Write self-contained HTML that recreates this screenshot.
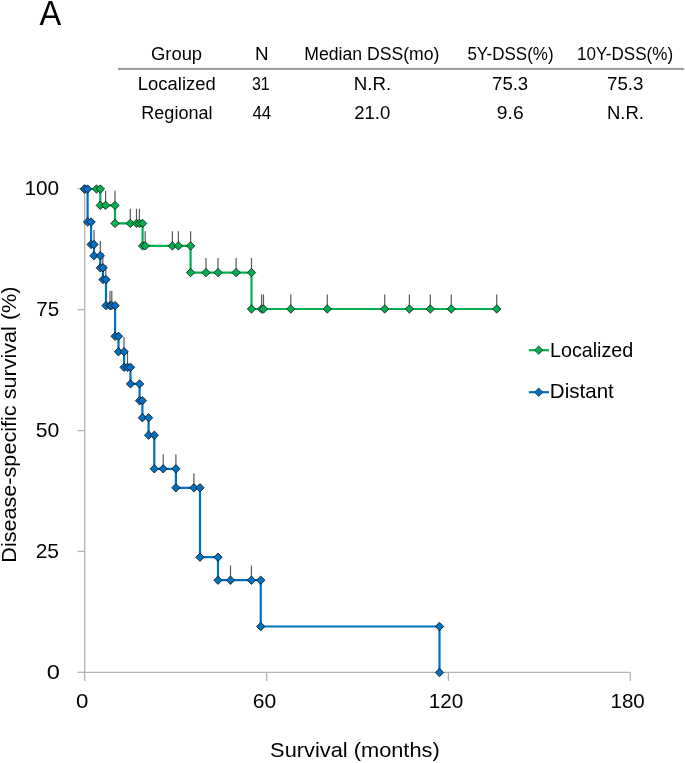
<!DOCTYPE html>
<html><head><meta charset="utf-8"><title>Kaplan-Meier DSS</title>
<style>
html,body{margin:0;padding:0;background:#fff;width:685px;height:763px;overflow:hidden;}
svg{display:block;font-family:"Liberation Sans",sans-serif;will-change:transform;}
</style></head><body>
<svg width="685" height="763" viewBox="0 0 685 763"><rect width="685" height="763" fill="#ffffff"/><text id="t_A" x="39.41" y="25.4" font-size="35.6" textLength="21.71" lengthAdjust="spacingAndGlyphs" fill="#000">A</text><text id="t_Group" x="150.95" y="60.2" font-size="17.5" textLength="51.18" lengthAdjust="spacingAndGlyphs" fill="#000">Group</text><text id="t_N" x="255.09" y="60.2" font-size="17.5" textLength="13.58" lengthAdjust="spacingAndGlyphs" fill="#000">N</text><text id="t_Median" x="304.29" y="60.2" font-size="17.5" textLength="135.17" lengthAdjust="spacingAndGlyphs" fill="#000">Median DSS(mo)</text><text id="t_5Y" x="467.42" y="60.2" font-size="17.5" textLength="86.18" lengthAdjust="spacingAndGlyphs" fill="#000">5Y-DSS(%)</text><text id="t_10Y" x="577.09" y="60.2" font-size="17.5" textLength="95.99" lengthAdjust="spacingAndGlyphs" fill="#000">10Y-DSS(%)</text><text id="t_Loc" x="137.85" y="89.7" font-size="17.5" textLength="77.93" lengthAdjust="spacingAndGlyphs" fill="#000">Localized</text><text id="t_31" x="251.99" y="89.7" font-size="17.5" textLength="17.73" lengthAdjust="spacingAndGlyphs" fill="#000">31</text><text id="t_NR1" x="353.78" y="89.7" font-size="17.5" textLength="37.46" lengthAdjust="spacingAndGlyphs" fill="#000">N.R.</text><text id="t_753a" x="492.09" y="89.7" font-size="17.5" textLength="36.10" lengthAdjust="spacingAndGlyphs" fill="#000">75.3</text><text id="t_753b" x="606.97" y="89.7" font-size="17.5" textLength="36.45" lengthAdjust="spacingAndGlyphs" fill="#000">75.3</text><text id="t_Reg" x="141.35" y="119.0" font-size="17.5" textLength="71.11" lengthAdjust="spacingAndGlyphs" fill="#000">Regional</text><text id="t_44" x="252.41" y="119.0" font-size="17.5" textLength="18.84" lengthAdjust="spacingAndGlyphs" fill="#000">44</text><text id="t_210" x="354.20" y="119.0" font-size="17.5" textLength="36.06" lengthAdjust="spacingAndGlyphs" fill="#000">21.0</text><text id="t_96" x="496.86" y="119.0" font-size="17.5" textLength="26.74" lengthAdjust="spacingAndGlyphs" fill="#000">9.6</text><text id="t_NR2" x="606.94" y="119.0" font-size="17.5" textLength="36.97" lengthAdjust="spacingAndGlyphs" fill="#000">N.R.</text><text id="t_SurvT" x="270.14" y="757.3" font-size="21" textLength="169.60" lengthAdjust="spacingAndGlyphs" fill="#000">Survival (months)</text><text id="t_LegLoc" x="549.93" y="356.9" font-size="21" textLength="83.41" lengthAdjust="spacingAndGlyphs" fill="#000">Localized</text><text id="t_LegDist" x="549.87" y="398.0" font-size="21" textLength="63.89" lengthAdjust="spacingAndGlyphs" fill="#000">Distant</text><text id="t_y100" x="24.49" y="195.45" font-size="21" textLength="34.71" lengthAdjust="spacingAndGlyphs" fill="#000">100</text><text id="t_y75" x="36.31" y="316.35" font-size="21" textLength="22.93" lengthAdjust="spacingAndGlyphs" fill="#000">75</text><text id="t_y50" x="35.72" y="437.15" font-size="21" textLength="23.56" lengthAdjust="spacingAndGlyphs" fill="#000">50</text><text id="t_y25" x="35.66" y="558.05" font-size="21" textLength="23.36" lengthAdjust="spacingAndGlyphs" fill="#000">25</text><text id="t_y0" x="46.82" y="678.95" font-size="21" textLength="13.09" lengthAdjust="spacingAndGlyphs" fill="#000">0</text><text id="t_x0" x="76.14" y="708.3" font-size="21" textLength="12.40" lengthAdjust="spacingAndGlyphs" fill="#000">0</text><text id="t_x60" x="252.71" y="708.3" font-size="21" textLength="23.46" lengthAdjust="spacingAndGlyphs" fill="#000">60</text><text id="t_x120" x="428.74" y="708.3" font-size="21" textLength="34.56" lengthAdjust="spacingAndGlyphs" fill="#000">120</text><text id="t_x180" x="610.55" y="708.3" font-size="21" textLength="34.23" lengthAdjust="spacingAndGlyphs" fill="#000">180</text><rect x="117.9" y="67.9" width="566" height="2.05" fill="#9a9a9a"/><g stroke="#b2b2b2" stroke-width="1.3" fill="none"><path d="M84.7,188.8V681M84.7,672.45H630.3"/><path d="M77.5,188.80H84.7"/><path d="M77.5,309.68H84.7"/><path d="M77.5,430.55H84.7"/><path d="M77.5,551.42H84.7"/><path d="M77.5,672.30H84.7"/><path d="M266.57,672.3V681"/><path d="M448.43,672.3V681"/><path d="M630.30,672.3V681"/></g><text id="t_YT" transform="translate(16.3,562.70) rotate(-90)" x="0" y="0" font-size="20.6" textLength="276.20" lengthAdjust="spacingAndGlyphs" fill="#000">Disease-specific survival (%)</text><path d="M84.70,189.00 L100.30,189.00 L100.30,205.40 L115.00,205.40 L115.00,223.40 L142.60,223.40 L142.60,245.90 L190.60,245.90 L190.60,272.60 L251.50,272.60 L251.50,309.00 L496.70,309.00" fill="none" stroke="#00B050" stroke-width="2.2"/><path d="M105.60,205.40V190.80M115.00,205.40V190.80M130.30,223.40V208.80M136.50,223.40V208.80M139.40,223.40V208.80M145.20,245.90V231.30M172.40,245.90V231.30M178.40,245.90V231.30M190.60,245.90V231.30M206.00,272.60V258.00M218.00,272.60V258.00M236.10,272.60V258.00M251.50,272.60V258.00M261.60,309.00V294.40M263.50,309.00V294.40M290.80,309.00V294.40M327.30,309.00V294.40M384.70,309.00V294.40M409.40,309.00V294.40M430.30,309.00V294.40M451.30,309.00V294.40M496.70,309.00V294.40" stroke="#595959" stroke-width="1.2" fill="none"/><g fill="#00B050" stroke="#000" stroke-opacity="0.72" stroke-width="1.0"><path d="M84.70,184.80L88.90,189.00L84.70,193.20L80.50,189.00Z"/><path d="M96.50,184.80L100.70,189.00L96.50,193.20L92.30,189.00Z"/><path d="M100.30,184.80L104.50,189.00L100.30,193.20L96.10,189.00Z"/><path d="M100.30,201.20L104.50,205.40L100.30,209.60L96.10,205.40Z"/><path d="M105.60,201.20L109.80,205.40L105.60,209.60L101.40,205.40Z"/><path d="M115.00,201.20L119.20,205.40L115.00,209.60L110.80,205.40Z"/><path d="M115.00,219.20L119.20,223.40L115.00,227.60L110.80,223.40Z"/><path d="M130.30,219.20L134.50,223.40L130.30,227.60L126.10,223.40Z"/><path d="M136.50,219.20L140.70,223.40L136.50,227.60L132.30,223.40Z"/><path d="M139.40,219.20L143.60,223.40L139.40,227.60L135.20,223.40Z"/><path d="M142.60,219.20L146.80,223.40L142.60,227.60L138.40,223.40Z"/><path d="M142.60,241.70L146.80,245.90L142.60,250.10L138.40,245.90Z"/><path d="M145.20,241.70L149.40,245.90L145.20,250.10L141.00,245.90Z"/><path d="M172.40,241.70L176.60,245.90L172.40,250.10L168.20,245.90Z"/><path d="M178.40,241.70L182.60,245.90L178.40,250.10L174.20,245.90Z"/><path d="M190.60,241.70L194.80,245.90L190.60,250.10L186.40,245.90Z"/><path d="M190.60,268.40L194.80,272.60L190.60,276.80L186.40,272.60Z"/><path d="M206.00,268.40L210.20,272.60L206.00,276.80L201.80,272.60Z"/><path d="M218.00,268.40L222.20,272.60L218.00,276.80L213.80,272.60Z"/><path d="M236.10,268.40L240.30,272.60L236.10,276.80L231.90,272.60Z"/><path d="M251.50,268.40L255.70,272.60L251.50,276.80L247.30,272.60Z"/><path d="M251.50,304.80L255.70,309.00L251.50,313.20L247.30,309.00Z"/><path d="M261.60,304.80L265.80,309.00L261.60,313.20L257.40,309.00Z"/><path d="M263.50,304.80L267.70,309.00L263.50,313.20L259.30,309.00Z"/><path d="M290.80,304.80L295.00,309.00L290.80,313.20L286.60,309.00Z"/><path d="M327.30,304.80L331.50,309.00L327.30,313.20L323.10,309.00Z"/><path d="M384.70,304.80L388.90,309.00L384.70,313.20L380.50,309.00Z"/><path d="M409.40,304.80L413.60,309.00L409.40,313.20L405.20,309.00Z"/><path d="M430.30,304.80L434.50,309.00L430.30,313.20L426.10,309.00Z"/><path d="M451.30,304.80L455.50,309.00L451.30,313.20L447.10,309.00Z"/><path d="M496.70,304.80L500.90,309.00L496.70,313.20L492.50,309.00Z"/></g><path d="M84.70,189.00 L87.60,189.00 L87.60,222.00 L91.10,222.00 L91.10,244.50 L94.00,244.50 L94.00,255.70 L100.30,255.70 L100.30,267.80 L103.00,267.80 L103.00,279.60 L106.00,279.60 L106.00,305.60 L115.10,305.60 L115.10,336.30 L118.50,336.30 L118.50,351.70 L124.10,351.70 L124.10,367.30 L130.50,367.30 L130.50,383.90 L139.60,383.90 L139.60,400.70 L142.40,400.70 L142.40,417.70 L148.60,417.70 L148.60,435.20 L154.30,435.20 L154.30,468.80 L175.90,468.80 L175.90,487.80 L200.00,487.80 L200.00,557.20 L218.00,557.20 L218.00,580.20 L260.75,580.20 L260.75,626.50 L439.50,626.50 L439.50,672.50 L439.50,672.50" fill="none" stroke="#0070C0" stroke-width="2.2"/><path d="M94.00,244.50V229.90M100.30,255.70V241.10M102.80,267.80V253.20M105.80,279.60V265.00M110.00,305.60V291.00M111.80,305.60V291.00M124.00,351.70V337.10M127.50,367.30V352.70M163.20,468.80V454.20M175.90,468.80V454.20M193.90,487.80V473.20M230.50,580.20V565.60M251.40,580.20V565.60" stroke="#595959" stroke-width="1.2" fill="none"/><g fill="#0070C0" stroke="#000" stroke-opacity="0.72" stroke-width="1.0"><path d="M84.50,184.80L88.70,189.00L84.50,193.20L80.30,189.00Z"/><path d="M87.60,184.80L91.80,189.00L87.60,193.20L83.40,189.00Z"/><path d="M87.60,217.80L91.80,222.00L87.60,226.20L83.40,222.00Z"/><path d="M91.10,217.80L95.30,222.00L91.10,226.20L86.90,222.00Z"/><path d="M91.10,240.30L95.30,244.50L91.10,248.70L86.90,244.50Z"/><path d="M94.00,240.30L98.20,244.50L94.00,248.70L89.80,244.50Z"/><path d="M94.00,251.50L98.20,255.70L94.00,259.90L89.80,255.70Z"/><path d="M100.30,251.50L104.50,255.70L100.30,259.90L96.10,255.70Z"/><path d="M100.30,263.60L104.50,267.80L100.30,272.00L96.10,267.80Z"/><path d="M103.00,263.60L107.20,267.80L103.00,272.00L98.80,267.80Z"/><path d="M103.00,275.40L107.20,279.60L103.00,283.80L98.80,279.60Z"/><path d="M106.00,275.40L110.20,279.60L106.00,283.80L101.80,279.60Z"/><path d="M106.00,301.40L110.20,305.60L106.00,309.80L101.80,305.60Z"/><path d="M110.00,301.40L114.20,305.60L110.00,309.80L105.80,305.60Z"/><path d="M111.70,301.40L115.90,305.60L111.70,309.80L107.50,305.60Z"/><path d="M115.10,301.40L119.30,305.60L115.10,309.80L110.90,305.60Z"/><path d="M115.10,332.10L119.30,336.30L115.10,340.50L110.90,336.30Z"/><path d="M118.50,332.10L122.70,336.30L118.50,340.50L114.30,336.30Z"/><path d="M118.50,347.50L122.70,351.70L118.50,355.90L114.30,351.70Z"/><path d="M124.10,347.50L128.30,351.70L124.10,355.90L119.90,351.70Z"/><path d="M124.10,363.10L128.30,367.30L124.10,371.50L119.90,367.30Z"/><path d="M127.50,363.10L131.70,367.30L127.50,371.50L123.30,367.30Z"/><path d="M130.50,363.10L134.70,367.30L130.50,371.50L126.30,367.30Z"/><path d="M130.50,379.70L134.70,383.90L130.50,388.10L126.30,383.90Z"/><path d="M139.60,379.70L143.80,383.90L139.60,388.10L135.40,383.90Z"/><path d="M139.60,396.50L143.80,400.70L139.60,404.90L135.40,400.70Z"/><path d="M142.40,396.50L146.60,400.70L142.40,404.90L138.20,400.70Z"/><path d="M142.40,413.50L146.60,417.70L142.40,421.90L138.20,417.70Z"/><path d="M148.60,413.50L152.80,417.70L148.60,421.90L144.40,417.70Z"/><path d="M148.60,431.00L152.80,435.20L148.60,439.40L144.40,435.20Z"/><path d="M154.30,431.00L158.50,435.20L154.30,439.40L150.10,435.20Z"/><path d="M154.30,464.60L158.50,468.80L154.30,473.00L150.10,468.80Z"/><path d="M163.20,464.60L167.40,468.80L163.20,473.00L159.00,468.80Z"/><path d="M175.90,464.60L180.10,468.80L175.90,473.00L171.70,468.80Z"/><path d="M175.90,483.60L180.10,487.80L175.90,492.00L171.70,487.80Z"/><path d="M193.90,483.60L198.10,487.80L193.90,492.00L189.70,487.80Z"/><path d="M200.00,483.60L204.20,487.80L200.00,492.00L195.80,487.80Z"/><path d="M200.00,553.00L204.20,557.20L200.00,561.40L195.80,557.20Z"/><path d="M218.00,553.00L222.20,557.20L218.00,561.40L213.80,557.20Z"/><path d="M218.00,576.00L222.20,580.20L218.00,584.40L213.80,580.20Z"/><path d="M230.50,576.00L234.70,580.20L230.50,584.40L226.30,580.20Z"/><path d="M251.40,576.00L255.60,580.20L251.40,584.40L247.20,580.20Z"/><path d="M260.75,576.00L264.95,580.20L260.75,584.40L256.55,580.20Z"/><path d="M260.75,622.30L264.95,626.50L260.75,630.70L256.55,626.50Z"/><path d="M439.50,622.30L443.70,626.50L439.50,630.70L435.30,626.50Z"/><path d="M439.50,668.30L443.70,672.50L439.50,676.70L435.30,672.50Z"/></g><path d="M528.8,350.2H549" stroke="#00B050" stroke-width="2.2"/><path d="M538.7,346L542.9,350.2L538.7,354.4L534.5,350.2Z" fill="#00B050" stroke="#1b1b1b" stroke-width="0.7"/><path d="M528.8,392.2H549" stroke="#0070C0" stroke-width="2.2"/><path d="M538.7,388L542.9,392.2L538.7,396.4L534.5,392.2Z" fill="#0070C0" stroke="#1b1b1b" stroke-width="0.7"/></svg>
</body></html>
